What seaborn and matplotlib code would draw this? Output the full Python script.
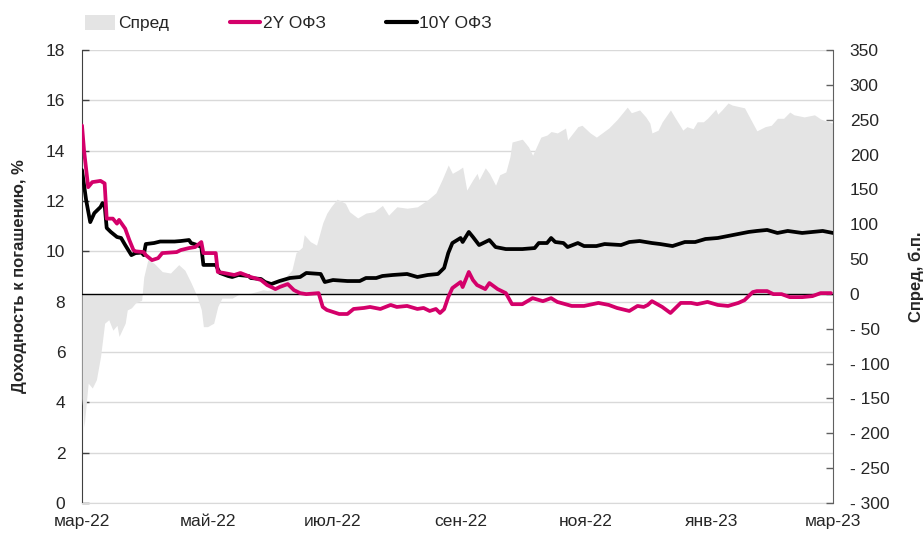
import matplotlib
matplotlib.use('Agg')
import matplotlib.pyplot as plt
import matplotlib.dates as mdates
from matplotlib.patches import Patch
from matplotlib.lines import Line2D
from matplotlib.ticker import FuncFormatter
import seaborn as sns
import pandas as pd

# --- данные, дни от 01.03.2022 ---
start = pd.Timestamp('2022-03-01')

y2_days = [0, 1, 3, 5, 9, 11, 12, 15, 17, 18, 21, 23, 25, 26, 30, 31, 34, 37, 39, 46,
           48, 52, 55, 58, 59, 65, 66, 69, 74, 77, 82, 87, 90, 94, 96, 100, 103, 106, 109, 115,
           117, 119, 122, 125, 129, 132, 137, 140, 145, 150, 153, 158, 163, 166, 169, 172, 174, 176, 178, 180,
           184, 185, 188, 190, 192, 196, 198, 202, 206, 209, 214, 219, 224, 228, 231, 238, 244, 251, 256, 260,
           266, 270, 273, 275, 277, 282, 286, 291, 296, 299, 304, 309, 314, 319, 322, 326, 328, 333, 336, 340,
           344, 350, 355, 359, 364]
y2_vals = [15.0, 14.0, 12.55, 12.75, 12.8, 12.7, 11.3, 11.3, 11.1, 11.25, 10.9, 10.45, 10.05, 10.0, 9.97, 9.85, 9.65, 9.73, 9.93, 9.97,
           10.05, 10.13, 10.17, 10.37, 9.93, 9.93, 9.18, 9.14, 9.06, 9.14, 8.98, 8.86, 8.66, 8.5, 8.58, 8.7, 8.46, 8.34, 8.3, 8.34,
           7.79, 7.67, 7.59, 7.51, 7.51, 7.71, 7.75, 7.79, 7.71, 7.87, 7.79, 7.83, 7.71, 7.75, 7.63, 7.71, 7.55, 7.7, 8.18, 8.54,
           8.78, 8.58, 9.18, 8.86, 8.66, 8.5, 8.74, 8.5, 8.34, 7.9, 7.9, 8.14, 8.02, 8.14, 7.99, 7.83, 7.83, 7.95, 7.87, 7.75,
           7.63, 7.83, 7.79, 7.87, 8.02, 7.79, 7.55, 7.95, 7.95, 7.9, 7.99, 7.87, 7.83, 7.95, 8.06, 8.38, 8.42, 8.42, 8.3, 8.3,
           8.18, 8.18, 8.22, 8.34, 8.34]

y10_days = [0, 2, 4, 6, 9, 10, 11, 12, 14, 17, 19, 21, 24, 26, 29, 30, 31, 35, 38, 45,
            48, 52, 53, 56, 58, 59, 65, 67, 71, 73, 76, 81, 82, 87, 89, 92, 96, 101, 106, 109,
            116, 118, 122, 129, 135, 138, 143, 146, 151, 158, 163, 168, 173, 176, 178, 180, 184, 185, 188, 190,
            193, 198, 201, 206, 214, 220, 222, 226, 228, 230, 234, 236, 241, 244, 250, 254, 262, 266, 271, 274,
            277, 281, 287, 293, 298, 303, 309, 314, 319, 324, 328, 333, 338, 343, 350, 355, 360, 365]
y10_vals = [13.23, 12.04, 11.16, 11.52, 11.76, 11.92, 11.84, 10.93, 10.77, 10.57, 10.53, 10.25, 9.85, 9.93, 9.95, 9.85, 10.29, 10.33, 10.39, 10.39,
            10.41, 10.45, 10.33, 10.25, 10.17, 9.46, 9.46, 9.14, 9.02, 8.98, 9.06, 9.02, 8.94, 8.9, 8.78, 8.7, 8.82, 8.94, 8.98, 9.14,
            9.1, 8.78, 8.86, 8.82, 8.82, 8.94, 8.94, 9.02, 9.06, 9.1, 8.98, 9.06, 9.1, 9.34, 9.93, 10.33, 10.53, 10.37, 10.77, 10.57,
            10.25, 10.45, 10.17, 10.09, 10.09, 10.13, 10.33, 10.33, 10.53, 10.37, 10.33, 10.17, 10.33, 10.21, 10.21, 10.29, 10.25, 10.37, 10.41, 10.37,
            10.33, 10.29, 10.21, 10.37, 10.37, 10.49, 10.53, 10.61, 10.69, 10.77, 10.81, 10.85, 10.73, 10.81, 10.73, 10.77, 10.81, 10.73]

spread_days = [0, 1, 3, 5, 7, 9, 11, 13, 15, 17, 18, 21, 22, 24, 26, 29, 30, 32, 35, 39,
               43, 47, 50, 53, 56, 58, 59, 61, 64, 66, 68, 73, 76, 82, 88, 90, 93, 102, 104, 107,
               108, 111, 114, 117, 119, 121, 124, 128, 130, 134, 138, 142, 146, 149, 153, 158, 163, 168, 172, 175,
               177, 178, 180, 183, 185, 187, 190, 192, 193, 196, 198, 201, 203, 206, 208, 209, 214, 217, 219, 223,
               226, 228, 231, 235, 236, 241, 243, 247, 250, 256, 260, 265, 267, 271, 274, 276, 277, 280, 282, 286,
               288, 291, 292, 294, 297, 299, 302, 304, 308, 309, 311, 314, 316, 322, 326, 328, 332, 335, 338, 341,
               344, 346, 351, 356, 359, 362, 365]
spread_vals = [-150, -191, -128, -135, -123, -90, -42, -37, -52, -45, -61, -42, -23, -20, -13, -9, 24, 49, 44, 32,
               30, 42, 34, 16, -4, -23, -47, -47, -42, -18, -6, -6, -1, 1, 6, 5, 6, 34, 59, 67,
               85, 75, 70, 102, 116, 125, 136, 130, 118, 109, 116, 118, 127, 113, 125, 123, 125, 135, 145, 164,
               178, 185, 173, 178, 182, 149, 164, 173, 164, 181, 173, 156, 171, 175, 197, 218, 222, 211, 199, 225,
               228, 233, 231, 238, 221, 240, 242, 231, 225, 238, 250, 268, 260, 264, 254, 245, 231, 235, 247, 264,
               254, 240, 235, 240, 237, 247, 247, 252, 265, 258, 264, 274, 271, 267, 245, 234, 240, 242, 252, 252,
               261, 257, 254, 257, 251, 248, 245]

left_ticks = [0, 2, 4, 6, 8, 10, 12, 14, 16, 18]
right_ticks = [-300, -250, -200, -150, -100, -50, 0, 50, 100, 150, 200, 250, 300, 350]
ru_months = ['янв', 'фев', 'мар', 'апр', 'май', 'июн', 'июл', 'авг', 'сен', 'окт', 'ноя', 'дек']

c_2y = '#D4006A'
c_10y = '#000000'
c_spread = '#E4E4E4'

df_2y = pd.DataFrame({'date': start + pd.to_timedelta(y2_days, unit='D'), 'val': y2_vals})
df_10y = pd.DataFrame({'date': start + pd.to_timedelta(y10_days, unit='D'), 'val': y10_vals})
df_spread = pd.DataFrame({'date': start + pd.to_timedelta(spread_days, unit='D'), 'val': spread_vals})

sns.set_style('white')
plt.rcParams['font.family'] = ['Liberation Sans', 'DejaVu Sans']

fig = plt.figure(figsize=(9.23, 5.43), dpi=100)
ax1 = fig.add_axes([82 / 923, 1 - 503 / 543, 751 / 923, 453 / 543])
ax2 = ax1.twinx()
ax3 = ax1.twinx()

# левая ось: сетка
ax1.set_ylim(0, 18)
ax1.set_yticks(left_ticks)
ax1.grid(axis='y', color='#D9D9D9', linewidth=1)
ax1.grid(axis='x', visible=False)

# правая ось: спред
ax2.fill_between(df_spread['date'], 0, df_spread['val'], color=c_spread, linewidth=0, zorder=1)
ax2.axhline(0, color='black', linewidth=1, zorder=2)
ax2.set_ylim(-300, 350)
ax2.set_yticks(right_ticks)
ax2.yaxis.set_major_formatter(FuncFormatter(lambda v, p: f'- {abs(int(v))}' if v < 0 else f'{int(v)}'))

# линии доходностей
sns.lineplot(data=df_10y, x='date', y='val', ax=ax3, color=c_10y, linewidth=2.7)
sns.lineplot(data=df_2y, x='date', y='val', ax=ax3, color=c_2y, linewidth=2.7)
ax3.set_ylim(0, 18)
ax3.set_yticks([])
ax3.set_ylabel('')
ax3.set_xlabel('')
for s in ax3.spines.values():
    s.set_visible(False)

xmin, xmax = pd.Timestamp('2022-03-01'), pd.Timestamp('2023-03-01')
for ax in (ax1, ax2, ax3):
    ax.set_xlim(xmin, xmax)

ax1.xaxis.set_major_locator(mdates.MonthLocator(bymonth=[1, 3, 5, 7, 9, 11]))
ax1.xaxis.set_major_formatter(FuncFormatter(
    lambda v, p: f"{ru_months[mdates.num2date(v).month - 1]}-{mdates.num2date(v).strftime('%y')}"))
ax3.xaxis.set_visible(False)

ax1.tick_params(axis='y', direction='in', length=5, width=1, color='#404040', labelsize=12.5, pad=12)
ax1.tick_params(axis='x', length=0, labelsize=12.5, pad=8)
ax2.tick_params(axis='y', direction='in', length=5, width=1, color='#606060', labelsize=12.5, pad=12)

for s in ('top', 'right'):
    ax1.spines[s].set_visible(False)
ax1.spines['left'].set_color('#404040')
ax1.spines['bottom'].set_color('#D9D9D9')
ax2.spines['top'].set_visible(False)
ax2.spines['left'].set_visible(False)
ax2.spines['bottom'].set_visible(False)
ax2.spines['right'].set_color('#606060')

ax1.set_ylabel('Доходность к погашению, %', fontsize=12, fontweight='bold', labelpad=14)
ax2.set_ylabel('Спред, б.п.', fontsize=12, fontweight='bold', labelpad=14)

handles = [Patch(facecolor=c_spread, edgecolor='none'),
           Line2D([0], [0], color=c_2y, linewidth=3),
           Line2D([0], [0], color=c_10y, linewidth=3)]
fig.legend(handles, ['Спред', '2Y ОФЗ', '10Y ОФЗ'], loc='center left',
           bbox_to_anchor=(85 / 923, 1 - 23 / 543), ncol=3, frameon=False,
           borderpad=0, borderaxespad=0,
           fontsize=12.5, handlelength=1.75, handleheight=1.0, handletextpad=0.15, columnspacing=3.5)

fig.savefig('out.png', dpi=100, facecolor='white')
